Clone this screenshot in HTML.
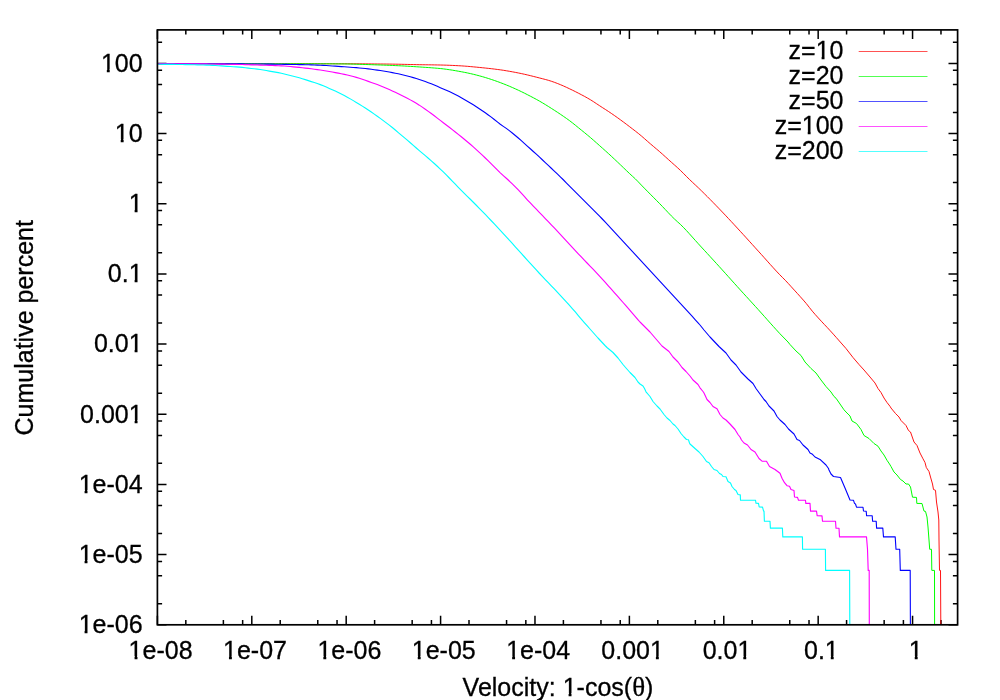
<!DOCTYPE html>
<html><head><meta charset="utf-8"><title>plot</title>
<style>
html,body{margin:0;padding:0;background:#fff;}
body{width:1000px;height:700px;overflow:hidden;}
svg{display:block;will-change:transform;}
text{font-family:"Liberation Sans",sans-serif;font-size:25px;fill:#000;stroke:#000;stroke-width:0.3px;}
</style></head><body>
<svg width="1000" height="700" viewBox="0 0 1000 700">
<rect width="1000" height="700" fill="#fff"/>
<path d="M157.40 624.80v-9.10 M157.40 29.90v9.10 M185.82 624.80v-4.70 M185.82 29.90v4.70 M223.38 624.80v-4.70 M223.38 29.90v4.70 M242.65 624.80v-4.70 M242.65 29.90v4.70 M251.80 624.80v-9.10 M251.80 29.90v9.10 M280.21 624.80v-4.70 M280.21 29.90v4.70 M317.77 624.80v-4.70 M317.77 29.90v4.70 M337.04 624.80v-4.70 M337.04 29.90v4.70 M346.19 624.80v-9.10 M346.19 29.90v9.10 M374.61 624.80v-4.70 M374.61 29.90v4.70 M412.17 624.80v-4.70 M412.17 29.90v4.70 M431.44 624.80v-4.70 M431.44 29.90v4.70 M440.59 624.80v-9.10 M440.59 29.90v9.10 M469.00 624.80v-4.70 M469.00 29.90v4.70 M506.57 624.80v-4.70 M506.57 29.90v4.70 M525.83 624.80v-4.70 M525.83 29.90v4.70 M534.98 624.80v-9.10 M534.98 29.90v9.10 M563.40 624.80v-4.70 M563.40 29.90v4.70 M600.96 624.80v-4.70 M600.96 29.90v4.70 M620.23 624.80v-4.70 M620.23 29.90v4.70 M629.38 624.80v-9.10 M629.38 29.90v9.10 M657.79 624.80v-4.70 M657.79 29.90v4.70 M695.36 624.80v-4.70 M695.36 29.90v4.70 M714.62 624.80v-4.70 M714.62 29.90v4.70 M723.77 624.80v-9.10 M723.77 29.90v9.10 M752.19 624.80v-4.70 M752.19 29.90v4.70 M789.75 624.80v-4.70 M789.75 29.90v4.70 M809.02 624.80v-4.70 M809.02 29.90v4.70 M818.17 624.80v-9.10 M818.17 29.90v9.10 M846.58 624.80v-4.70 M846.58 29.90v4.70 M884.15 624.80v-4.70 M884.15 29.90v4.70 M903.41 624.80v-4.70 M903.41 29.90v4.70 M912.56 624.80v-9.10 M912.56 29.90v9.10 M940.98 624.80v-4.70 M940.98 29.90v4.70 M157.40 624.80h9.10 M957.60 624.80h-9.10 M157.40 603.67h4.70 M957.60 603.67h-4.70 M157.40 575.75h4.70 M957.60 575.75h-4.70 M157.40 561.42h4.70 M957.60 561.42h-4.70 M157.40 554.62h9.10 M957.60 554.62h-9.10 M157.40 533.50h4.70 M957.60 533.50h-4.70 M157.40 505.57h4.70 M957.60 505.57h-4.70 M157.40 491.25h4.70 M957.60 491.25h-4.70 M157.40 484.45h9.10 M957.60 484.45h-9.10 M157.40 463.32h4.70 M957.60 463.32h-4.70 M157.40 435.39h4.70 M957.60 435.39h-4.70 M157.40 421.07h4.70 M957.60 421.07h-4.70 M157.40 414.27h9.10 M957.60 414.27h-9.10 M157.40 393.14h4.70 M957.60 393.14h-4.70 M157.40 365.22h4.70 M957.60 365.22h-4.70 M157.40 350.89h4.70 M957.60 350.89h-4.70 M157.40 344.09h9.10 M957.60 344.09h-9.10 M157.40 322.97h4.70 M957.60 322.97h-4.70 M157.40 295.04h4.70 M957.60 295.04h-4.70 M157.40 280.72h4.70 M957.60 280.72h-4.70 M157.40 273.91h9.10 M957.60 273.91h-9.10 M157.40 252.79h4.70 M957.60 252.79h-4.70 M157.40 224.86h4.70 M957.60 224.86h-4.70 M157.40 210.54h4.70 M957.60 210.54h-4.70 M157.40 203.74h9.10 M957.60 203.74h-9.10 M157.40 182.61h4.70 M957.60 182.61h-4.70 M157.40 154.69h4.70 M957.60 154.69h-4.70 M157.40 140.36h4.70 M957.60 140.36h-4.70 M157.40 133.56h9.10 M957.60 133.56h-9.10 M157.40 112.43h4.70 M957.60 112.43h-4.70 M157.40 84.51h4.70 M957.60 84.51h-4.70 M157.40 70.18h4.70 M957.60 70.18h-4.70 M157.40 63.38h9.10 M957.60 63.38h-9.10 M157.40 42.26h4.70 M957.60 42.26h-4.70" stroke="#000" stroke-width="1.5" fill="none"/>
<text x="160.60" y="658.6" text-anchor="middle">1e-08</text>
<text x="255.00" y="658.6" text-anchor="middle">1e-07</text>
<text x="349.39" y="658.6" text-anchor="middle">1e-06</text>
<text x="443.79" y="658.6" text-anchor="middle">1e-05</text>
<text x="538.18" y="658.6" text-anchor="middle">1e-04</text>
<text x="632.58" y="658.6" text-anchor="middle">0.001</text>
<text x="726.97" y="658.6" text-anchor="middle">0.01</text>
<text x="821.37" y="658.6" text-anchor="middle">0.1</text>
<text x="915.76" y="658.6" text-anchor="middle">1</text>
<text x="142.6" y="633.20" text-anchor="end">1e-06</text>
<text x="142.6" y="563.02" text-anchor="end">1e-05</text>
<text x="142.6" y="492.85" text-anchor="end">1e-04</text>
<text x="142.6" y="422.67" text-anchor="end">0.001</text>
<text x="142.6" y="352.49" text-anchor="end">0.01</text>
<text x="142.6" y="282.31" text-anchor="end">0.1</text>
<text x="142.6" y="212.14" text-anchor="end">1</text>
<text x="142.6" y="141.96" text-anchor="end">10</text>
<text x="142.6" y="71.78" text-anchor="end">100</text>
<text x="558.0" y="695.8" text-anchor="middle">Velocity: 1-cos(<tspan font-family="Liberation Serif" font-size="27">θ</tspan>)</text>
<text transform="translate(33.4 327.8) rotate(-90)" text-anchor="middle">Cumulative percent</text>
<text x="843.5" y="59.40" text-anchor="end">z=10</text>
<path d="M858.7 51.50H927.5" stroke="#ff0000" stroke-width="1" stroke-opacity="0.68" fill="none"/>
<text x="843.5" y="84.40" text-anchor="end">z=20</text>
<path d="M858.7 76.50H927.5" stroke="#00ff00" stroke-width="1" stroke-opacity="0.68" fill="none"/>
<text x="843.5" y="109.40" text-anchor="end">z=50</text>
<path d="M858.7 101.50H927.5" stroke="#0000ff" stroke-width="1" stroke-opacity="0.68" fill="none"/>
<text x="843.5" y="134.40" text-anchor="end">z=100</text>
<path d="M858.7 126.50H927.5" stroke="#ff00ff" stroke-width="1" stroke-opacity="0.68" fill="none"/>
<text x="843.5" y="159.40" text-anchor="end">z=200</text>
<path d="M858.7 151.50H927.5" stroke="#00ffff" stroke-width="1" stroke-opacity="0.68" fill="none"/>
<!--FOOT-->
<g id="foot" fill="#fff" stroke="none"><rect x="130.00" y="656" width="4.56" height="4"/><rect x="137.47" y="656" width="4.53" height="4"/><rect x="224.00" y="656" width="4.96" height="4"/><rect x="231.87" y="656" width="4.13" height="4"/><rect x="319.00" y="656" width="4.35" height="4"/><rect x="326.26" y="656" width="4.74" height="4"/><rect x="413.00" y="656" width="4.75" height="4"/><rect x="420.66" y="656" width="4.34" height="4"/><rect x="507.00" y="656" width="5.14" height="4"/><rect x="515.05" y="656" width="4.95" height="4"/><rect x="651.00" y="656" width="4.89" height="4"/><rect x="658.80" y="656" width="4.20" height="4"/><rect x="739.00" y="656" width="4.32" height="4"/><rect x="746.23" y="656" width="4.77" height="4"/><rect x="826.00" y="656" width="4.77" height="4"/><rect x="833.68" y="656" width="4.32" height="4"/><rect x="910.00" y="656" width="4.74" height="4"/><rect x="917.65" y="656" width="4.35" height="4"/><rect x="80.00" y="631" width="4.58" height="4"/><rect x="87.49" y="631" width="4.51" height="4"/><rect x="80.00" y="560" width="4.58" height="5"/><rect x="87.49" y="560" width="4.51" height="5"/><rect x="80.00" y="490" width="4.58" height="5"/><rect x="87.49" y="490" width="4.51" height="5"/><rect x="130.00" y="420" width="4.63" height="4"/><rect x="137.54" y="420" width="4.46" height="4"/><rect x="130.00" y="350" width="4.61" height="4"/><rect x="137.52" y="350" width="4.48" height="4"/><rect x="130.00" y="280" width="4.61" height="4"/><rect x="137.52" y="280" width="4.48" height="4"/><rect x="130.00" y="210" width="4.63" height="4"/><rect x="137.54" y="210" width="4.46" height="4"/><rect x="116.00" y="139" width="4.72" height="5"/><rect x="123.63" y="139" width="4.37" height="5"/><rect x="102.00" y="69" width="4.82" height="4"/><rect x="109.73" y="69" width="4.27" height="4"/><rect x="564.00" y="693" width="4.59" height="4"/><rect x="571.50" y="693" width="4.50" height="4"/><rect x="817.00" y="57" width="4.61" height="4"/><rect x="824.52" y="57" width="4.48" height="4"/><rect x="803.00" y="132" width="4.72" height="4"/><rect x="810.63" y="132" width="4.37" height="4"/></g>

<path d="M158.30 63.70 L161.30 63.70 L164.30 63.70 L167.30 63.70 L170.30 63.70 L173.30 63.70 L176.30 63.70 L179.30 63.70 L182.30 63.70 L185.30 63.70 L188.30 63.70 L191.30 63.70 L194.30 63.70 L197.30 63.70 L200.30 63.70 L203.30 63.70 L206.30 63.70 L209.30 63.70 L212.30 63.70 L215.30 63.70 L218.30 63.70 L221.30 63.70 L224.30 63.70 L227.30 63.70 L230.30 63.70 L233.30 63.70 L236.30 63.70 L239.30 63.70 L242.30 63.70 L245.30 63.70 L248.30 63.70 L251.30 63.70 L254.30 63.70 L257.30 63.70 L260.30 63.70 L263.30 63.70 L266.30 63.70 L269.30 63.70 L272.30 63.70 L275.30 63.70 L278.30 63.70 L281.30 63.70 L284.30 63.70 L287.30 63.70 L290.30 63.70 L293.30 63.70 L296.30 63.70 L299.30 63.70 L302.30 63.70 L305.30 63.70 L308.30 63.70 L311.30 63.70 L314.30 63.71 L317.30 63.71 L320.30 63.72 L323.30 63.72 L326.30 63.72 L329.30 63.73 L332.30 63.73 L335.30 63.74 L338.30 63.75 L341.30 63.75 L344.30 63.76 L347.30 63.77 L350.30 63.78 L353.30 63.80 L356.30 63.81 L359.30 63.83 L362.30 63.85 L365.30 63.87 L368.30 63.90 L371.30 63.92 L374.30 63.95 L377.30 63.97 L380.30 64.00 L383.30 64.03 L386.30 64.06 L389.30 64.09 L392.30 64.13 L395.30 64.18 L398.30 64.23 L401.30 64.29 L404.30 64.36 L407.30 64.43 L410.30 64.50 L413.30 64.57 L416.30 64.63 L419.30 64.69 L422.30 64.74 L425.30 64.78 L428.30 64.82 L431.30 64.85 L434.30 64.90 L437.30 64.95 L440.30 65.01 L443.30 65.08 L446.30 65.18 L449.30 65.29 L452.30 65.42 L455.30 65.56 L458.30 65.71 L461.30 65.87 L464.30 66.08 L467.30 66.31 L470.30 66.57 L473.30 66.85 L476.30 67.14 L479.30 67.43 L482.30 67.73 L485.30 68.04 L488.30 68.36 L491.30 68.70 L494.30 69.06 L497.30 69.44 L500.30 69.84 L503.30 70.28 L506.30 70.76 L509.30 71.27 L512.30 71.81 L515.30 72.37 L518.30 72.96 L521.30 73.57 L524.30 74.22 L527.30 74.91 L530.30 75.64 L533.30 76.39 L536.30 77.15 L539.30 77.92 L542.30 78.68 L545.30 79.46 L548.30 80.29 L551.30 81.22 L554.30 82.27 L557.30 83.42 L560.30 84.62 L563.30 85.90 L566.30 87.26 L569.30 88.67 L572.30 90.10 L575.30 91.59 L578.30 93.12 L581.30 94.68 L584.30 96.28 L587.30 97.94 L590.30 99.68 L593.30 101.56 L596.30 103.55 L599.30 105.54 L602.30 107.49 L605.30 109.41 L608.30 111.37 L611.30 113.38 L614.30 115.45 L617.30 117.56 L620.30 119.72 L623.30 121.93 L626.30 124.18 L629.30 126.46 L632.30 128.76 L635.30 131.06 L638.30 133.42 L641.30 135.89 L644.30 138.49 L647.30 141.14 L650.30 143.76 L653.30 146.30 L656.30 148.83 L659.30 151.39 L662.30 154.03 L665.30 156.74 L668.30 159.46 L671.30 162.16 L674.30 164.82 L677.30 167.50 L680.30 170.29 L683.30 173.25 L686.30 176.31 L689.30 179.29 L692.30 182.14 L695.30 184.94 L698.30 187.76 L701.30 190.67 L704.30 193.63 L707.30 196.62 L710.30 199.64 L713.30 202.69 L716.30 205.77 L719.30 208.87 L722.30 212.00 L725.30 215.17 L728.30 218.36 L731.30 221.58 L734.30 224.82 L737.30 228.07 L740.30 231.33 L743.30 234.60 L746.30 237.89 L749.30 241.19 L752.30 244.50 L755.30 247.82 L758.30 251.13 L761.30 254.43 L764.30 257.78 L767.30 261.14 L770.30 264.49 L773.30 267.81 L776.30 271.08 L779.30 274.27 L782.30 277.30 L785.30 280.31 L788.30 283.51 L791.30 286.80 L794.30 290.11 L797.30 293.40 L800.30 296.73 L803.30 300.08 L806.30 303.56 L809.30 307.39 L812.30 311.16 L815.30 314.61 L818.30 317.94 L821.30 321.21 L824.30 324.41 L827.30 327.59 L830.30 330.83 L833.30 334.14 L836.30 337.50 L838.50 340.00 L846.00 348.50 L853.00 357.50 L859.00 364.50 L864.00 370.00 L870.00 377.00 L875.00 383.00 L878.00 388.50 L881.00 392.50 L884.00 398.00 L887.00 402.50 L890.00 406.30 L891.00 408.00 L895.50 413.50 L899.00 417.00 L901.00 420.50 L906.00 425.50 L908.50 430.50 L910.50 432.00 L914.00 442.00 L917.00 445.50 L920.00 453.00 L923.00 458.80 L925.00 462.50 L926.30 467.50 L929.00 471.50 L930.50 477.00 L932.50 484.00 L933.50 489.50 L935.50 490.30 L936.50 502.00 L938.00 512.00 L938.80 520.00 L939.00 540.00 L939.50 570.40 L940.50 570.40 L940.80 624.80" stroke="#ff0000" stroke-width="0.92" fill="none" stroke-linejoin="round"/>
<path d="M158.30 63.70 L161.30 63.70 L164.30 63.70 L167.30 63.70 L170.30 63.70 L173.30 63.70 L176.30 63.70 L179.30 63.70 L182.30 63.70 L185.30 63.70 L188.30 63.70 L191.30 63.70 L194.30 63.70 L197.30 63.70 L200.30 63.70 L203.30 63.70 L206.30 63.71 L209.30 63.71 L212.30 63.71 L215.30 63.71 L218.30 63.71 L221.30 63.71 L224.30 63.71 L227.30 63.71 L230.30 63.71 L233.30 63.71 L236.30 63.71 L239.30 63.72 L242.30 63.72 L245.30 63.72 L248.30 63.72 L251.30 63.72 L254.30 63.72 L257.30 63.72 L260.30 63.72 L263.30 63.73 L266.30 63.73 L269.30 63.73 L272.30 63.73 L275.30 63.73 L278.30 63.73 L281.30 63.74 L284.30 63.74 L287.30 63.74 L290.30 63.74 L293.30 63.75 L296.30 63.75 L299.30 63.75 L302.30 63.75 L305.30 63.76 L308.30 63.76 L311.30 63.77 L314.30 63.78 L317.30 63.79 L320.30 63.80 L323.30 63.81 L326.30 63.82 L329.30 63.84 L332.30 63.85 L335.30 63.87 L338.30 63.89 L341.30 63.91 L344.30 63.94 L347.30 63.99 L350.30 64.05 L353.30 64.12 L356.30 64.21 L359.30 64.29 L362.30 64.39 L365.30 64.49 L368.30 64.59 L371.30 64.70 L374.30 64.80 L377.30 64.91 L380.30 65.01 L383.30 65.11 L386.30 65.22 L389.30 65.34 L392.30 65.46 L395.30 65.58 L398.30 65.72 L401.30 65.86 L404.30 66.02 L407.30 66.19 L410.30 66.37 L413.30 66.56 L416.30 66.75 L419.30 66.95 L422.30 67.15 L425.30 67.35 L428.30 67.55 L431.30 67.77 L434.30 68.00 L437.30 68.25 L440.30 68.53 L443.30 68.87 L446.30 69.27 L449.30 69.70 L452.30 70.15 L455.30 70.66 L458.30 71.19 L461.30 71.74 L464.30 72.31 L467.30 72.92 L470.30 73.57 L473.30 74.27 L476.30 75.02 L479.30 75.81 L482.30 76.64 L485.30 77.53 L488.30 78.46 L491.30 79.43 L494.30 80.44 L497.30 81.51 L500.30 82.61 L503.30 83.76 L506.30 84.96 L509.30 86.20 L512.30 87.49 L515.30 88.82 L518.30 90.20 L521.30 91.62 L524.30 93.09 L527.30 94.61 L530.30 96.16 L533.30 97.73 L536.30 99.34 L539.30 101.00 L542.30 102.74 L545.30 104.56 L548.30 106.43 L551.30 108.32 L554.30 110.24 L557.30 112.20 L560.30 114.20 L563.30 116.24 L566.30 118.32 L569.30 120.48 L572.30 122.76 L575.30 125.16 L578.30 127.62 L581.30 130.05 L584.30 132.48 L587.30 134.94 L590.30 137.46 L593.30 140.05 L596.30 142.71 L599.30 145.38 L602.30 148.04 L605.30 150.72 L608.30 153.44 L611.30 156.20 L614.30 159.01 L617.30 161.84 L620.30 164.69 L623.30 167.57 L626.30 170.47 L629.30 173.34 L632.30 176.10 L635.30 178.84 L638.30 181.88 L641.30 185.05 L644.30 188.13 L647.30 191.17 L650.30 194.19 L653.30 197.21 L656.30 200.24 L659.30 203.28 L662.30 206.39 L665.30 209.56 L668.30 212.74 L671.30 215.86 L674.30 218.85 L677.30 221.61 L680.30 224.29 L683.30 227.28 L686.30 230.43 L689.30 233.70 L692.30 237.04 L695.30 240.41 L698.30 243.74 L701.30 247.01 L704.30 250.27 L707.30 253.53 L710.30 256.79 L713.30 260.06 L716.30 263.34 L719.30 266.63 L722.30 269.94 L725.30 273.26 L728.30 276.60 L731.30 279.94 L734.30 283.28 L737.30 286.61 L740.30 289.93 L743.30 293.23 L746.30 296.51 L749.30 299.79 L752.30 303.07 L755.30 306.36 L758.30 309.67 L761.30 313.00 L764.30 316.37 L767.30 319.74 L770.30 323.11 L773.30 326.46 L776.30 329.78 L779.30 333.04 L780.00 333.80 L788.00 342.00 L790.00 344.50 L796.00 351.00 L801.00 355.50 L805.00 362.00 L811.00 368.50 L816.00 373.00 L821.00 380.00 L826.00 386.50 L831.00 392.00 L834.00 396.50 L836.00 398.20 L840.00 404.00 L844.00 409.80 L846.00 412.00 L850.00 416.00 L852.00 421.00 L856.50 423.50 L861.00 429.50 L864.00 435.50 L869.00 438.50 L874.00 443.50 L878.00 446.20 L881.00 451.00 L884.00 455.00 L887.00 460.30 L889.50 464.00 L891.00 466.50 L894.00 472.00 L897.00 475.00 L900.50 479.50 L903.00 481.00 L906.00 484.00 L908.50 484.00 L910.50 487.00 L912.50 497.20 L916.50 497.40 L916.80 503.40 L922.00 503.50 L924.00 511.10 L925.50 511.40 L927.00 517.00 L928.00 527.00 L929.00 540.00 L929.70 549.30 L931.50 549.30 L931.80 570.40 L934.50 570.40 L934.60 624.80" stroke="#00ff00" stroke-width="1.00" fill="none" stroke-linejoin="round"/>
<path d="M158.30 63.70 L161.30 63.70 L164.30 63.70 L167.30 63.70 L170.30 63.71 L173.30 63.71 L176.30 63.71 L179.30 63.72 L182.30 63.72 L185.30 63.73 L188.30 63.73 L191.30 63.74 L194.30 63.75 L197.30 63.75 L200.30 63.76 L203.30 63.77 L206.30 63.78 L209.30 63.79 L212.30 63.80 L215.30 63.81 L218.30 63.82 L221.30 63.83 L224.30 63.84 L227.30 63.85 L230.30 63.86 L233.30 63.87 L236.30 63.88 L239.30 63.90 L242.30 63.91 L245.30 63.93 L248.30 63.94 L251.30 63.96 L254.30 63.99 L257.30 64.01 L260.30 64.04 L263.30 64.07 L266.30 64.10 L269.30 64.14 L272.30 64.17 L275.30 64.21 L278.30 64.25 L281.30 64.29 L284.30 64.34 L287.30 64.38 L290.30 64.43 L293.30 64.48 L296.30 64.53 L299.30 64.59 L302.30 64.65 L305.30 64.71 L308.30 64.79 L311.30 64.88 L314.30 64.98 L317.30 65.09 L320.30 65.21 L323.30 65.36 L326.30 65.53 L329.30 65.73 L332.30 65.94 L335.30 66.16 L338.30 66.38 L341.30 66.59 L344.30 66.79 L347.30 67.00 L350.30 67.21 L353.30 67.43 L356.30 67.67 L359.30 67.94 L362.30 68.23 L365.30 68.55 L368.30 68.91 L371.30 69.29 L374.30 69.69 L377.30 70.11 L380.30 70.54 L383.30 71.02 L386.30 71.53 L389.30 72.07 L392.30 72.63 L395.30 73.21 L398.30 73.83 L401.30 74.49 L404.30 75.21 L407.30 75.98 L410.30 76.78 L413.30 77.63 L416.30 78.53 L419.30 79.47 L422.30 80.47 L425.30 81.53 L428.30 82.65 L431.30 83.81 L434.30 85.05 L437.30 86.33 L440.30 87.63 L443.30 88.91 L446.30 90.22 L449.30 91.57 L452.30 93.01 L455.30 94.52 L458.30 96.09 L461.30 97.71 L464.30 99.41 L467.30 101.17 L470.30 102.98 L473.30 104.84 L476.30 106.76 L479.30 108.73 L482.30 110.75 L485.30 112.82 L488.30 114.96 L491.30 117.18 L494.30 119.54 L497.30 121.93 L500.30 124.22 L503.30 126.33 L506.30 128.40 L509.30 130.61 L512.30 132.99 L515.30 135.48 L518.30 138.04 L521.30 140.63 L524.30 143.31 L527.30 146.04 L530.30 148.77 L533.30 151.48 L536.30 154.21 L539.30 156.95 L542.30 159.74 L545.30 162.56 L548.30 165.39 L551.30 168.23 L554.30 171.05 L557.30 173.90 L560.30 176.79 L563.30 179.76 L566.30 182.78 L569.30 185.80 L572.30 188.80 L575.30 191.80 L578.30 194.79 L581.30 197.80 L584.30 200.80 L587.30 203.80 L590.30 206.78 L593.30 209.78 L596.30 212.81 L599.30 215.88 L602.30 219.00 L605.30 222.17 L608.30 225.37 L611.30 228.60 L614.30 231.85 L617.30 235.09 L620.30 238.32 L623.30 241.55 L626.30 244.78 L629.30 248.02 L632.30 251.26 L635.30 254.51 L638.30 257.76 L641.30 261.01 L644.30 264.28 L647.30 267.56 L650.30 270.84 L653.30 274.12 L656.30 277.39 L659.30 280.64 L662.30 283.88 L665.30 287.10 L668.30 290.32 L671.30 293.56 L674.30 296.81 L677.30 300.06 L680.30 303.33 L683.30 306.60 L686.30 309.89 L689.30 313.18 L692.30 316.48 L695.30 319.79 L698.30 323.11 L700.00 325.00 L704.00 330.00 L710.00 337.00 L719.00 346.50 L726.00 353.00 L731.00 360.00 L736.00 365.00 L741.00 372.00 L748.00 379.00 L753.00 383.50 L756.00 388.50 L760.00 394.00 L764.00 399.50 L766.00 401.50 L769.00 406.00 L774.00 411.00 L777.00 416.50 L780.00 420.00 L785.00 424.50 L788.50 429.00 L794.00 434.00 L797.00 439.50 L799.50 440.50 L803.00 445.00 L808.00 449.50 L810.00 453.00 L812.50 454.30 L815.00 457.00 L820.00 459.40 L826.00 465.00 L828.50 468.50 L829.00 470.00 L831.00 474.00 L833.50 476.50 L840.50 477.50 L845.00 488.00 L850.00 500.00 L853.50 500.30 L854.50 503.40 L855.50 504.00 L856.50 507.20 L863.00 507.20 L863.50 511.00 L866.20 511.20 L866.60 515.80 L872.20 515.80 L872.60 521.30 L876.20 521.30 L876.60 528.10 L882.80 528.10 L883.50 536.90 L895.20 536.90 L896.00 549.30 L899.70 549.30 L900.30 570.40 L910.20 570.40 L910.40 624.80" stroke="#0000ff" stroke-width="1.10" fill="none" stroke-linejoin="round"/>
<path d="M158.30 63.70 L161.30 63.70 L164.30 63.70 L167.30 63.71 L170.30 63.72 L173.30 63.72 L176.30 63.73 L179.30 63.74 L182.30 63.76 L185.30 63.77 L188.30 63.79 L191.30 63.80 L194.30 63.82 L197.30 63.83 L200.30 63.85 L203.30 63.87 L206.30 63.90 L209.30 63.94 L212.30 63.97 L215.30 64.02 L218.30 64.07 L221.30 64.12 L224.30 64.17 L227.30 64.23 L230.30 64.29 L233.30 64.36 L236.30 64.42 L239.30 64.48 L242.30 64.55 L245.30 64.63 L248.30 64.72 L251.30 64.82 L254.30 64.91 L257.30 65.01 L260.30 65.11 L263.30 65.20 L266.30 65.29 L269.30 65.38 L272.30 65.48 L275.30 65.59 L278.30 65.72 L281.30 65.87 L284.30 66.06 L287.30 66.29 L290.30 66.55 L293.30 66.83 L296.30 67.13 L299.30 67.43 L302.30 67.74 L305.30 68.07 L308.30 68.43 L311.30 68.80 L314.30 69.20 L317.30 69.61 L320.30 70.04 L323.30 70.50 L326.30 70.99 L329.30 71.50 L332.30 72.03 L335.30 72.59 L338.30 73.17 L341.30 73.76 L344.30 74.39 L347.30 75.06 L350.30 75.77 L353.30 76.55 L356.30 77.39 L359.30 78.28 L362.30 79.25 L365.30 80.30 L368.30 81.39 L371.30 82.46 L374.30 83.51 L377.30 84.58 L380.30 85.72 L383.30 86.95 L386.30 88.25 L389.30 89.59 L392.30 90.93 L395.30 92.28 L398.30 93.68 L401.30 95.14 L404.30 96.66 L407.30 98.23 L410.30 99.87 L413.30 101.56 L416.30 103.31 L419.30 105.15 L422.30 107.12 L425.30 109.20 L428.30 111.36 L431.30 113.56 L434.30 115.82 L437.30 118.13 L440.30 120.43 L443.30 122.70 L446.30 124.97 L449.30 127.26 L452.30 129.59 L455.30 131.94 L458.30 134.33 L461.30 136.75 L464.30 139.20 L467.30 141.70 L470.30 144.26 L473.30 146.90 L476.30 149.60 L479.30 152.35 L482.30 155.14 L485.30 157.97 L488.30 160.85 L491.30 163.78 L494.30 166.78 L497.30 169.80 L500.30 172.79 L503.30 175.58 L506.30 178.28 L509.30 181.03 L512.30 183.92 L515.30 186.88 L518.30 189.93 L521.30 193.10 L524.30 196.45 L527.30 199.78 L530.30 202.97 L533.30 206.08 L536.30 209.17 L539.30 212.27 L542.30 215.40 L545.30 218.53 L548.30 221.67 L551.30 224.81 L554.30 227.97 L557.30 231.13 L560.30 234.32 L563.30 237.54 L566.30 240.78 L569.30 244.04 L572.30 247.30 L575.30 250.55 L578.30 253.78 L581.30 256.98 L584.30 260.13 L587.30 263.25 L590.30 266.36 L593.30 269.48 L596.30 272.64 L599.30 275.84 L602.30 279.12 L605.30 282.46 L608.30 285.84 L611.30 289.21 L614.30 292.58 L617.30 295.95 L620.30 299.34 L623.30 302.75 L626.30 306.18 L629.30 309.62 L632.30 313.07 L635.30 316.53 L638.30 320.02 L640.00 322.00 L643.00 325.00 L650.00 332.00 L656.00 339.00 L662.00 346.00 L669.00 351.50 L673.00 357.00 L678.00 362.00 L682.00 367.50 L686.00 371.50 L690.00 376.00 L693.00 380.00 L698.00 384.50 L700.00 387.80 L703.00 391.50 L704.00 393.00 L707.00 399.50 L710.00 402.50 L713.00 406.50 L717.00 408.80 L720.00 414.50 L723.00 418.00 L726.00 420.00 L730.00 424.00 L735.00 429.50 L738.00 434.50 L740.00 437.00 L741.50 440.00 L744.00 443.00 L747.50 445.00 L751.00 449.50 L755.00 452.00 L759.00 458.50 L762.00 461.20 L766.50 461.20 L769.50 466.50 L775.00 469.50 L780.00 473.30 L782.00 478.20 L784.50 482.70 L787.00 485.70 L789.50 486.20 L791.00 489.50 L794.00 490.50 L794.50 497.00 L797.50 497.40 L798.50 500.20 L805.50 500.20 L805.80 503.40 L810.00 503.40 L810.50 511.10 L816.50 511.10 L817.20 515.80 L822.00 515.90 L822.50 521.30 L835.50 521.30 L836.00 528.10 L839.00 528.20 L839.50 536.90 L866.50 536.90 L867.50 549.30 L868.20 570.40 L869.20 570.40 L869.30 624.80" stroke="#ff00ff" stroke-width="1.12" fill="none" stroke-linejoin="round"/>
<path d="M158.30 64.30 L161.30 64.31 L164.30 64.33 L167.30 64.35 L170.30 64.39 L173.30 64.42 L176.30 64.47 L179.30 64.51 L182.30 64.56 L185.30 64.61 L188.30 64.67 L191.30 64.72 L194.30 64.79 L197.30 64.87 L200.30 64.95 L203.30 65.05 L206.30 65.16 L209.30 65.27 L212.30 65.40 L215.30 65.56 L218.30 65.73 L221.30 65.92 L224.30 66.12 L227.30 66.32 L230.30 66.52 L233.30 66.71 L236.30 66.91 L239.30 67.14 L242.30 67.42 L245.30 67.75 L248.30 68.10 L251.30 68.45 L254.30 68.79 L257.30 69.14 L260.30 69.54 L263.30 70.01 L266.30 70.54 L269.30 71.08 L272.30 71.60 L275.30 72.11 L278.30 72.66 L281.30 73.28 L284.30 74.02 L287.30 74.80 L290.30 75.57 L293.30 76.30 L296.30 77.03 L299.30 77.81 L302.30 78.68 L305.30 79.64 L308.30 80.64 L311.30 81.62 L314.30 82.57 L317.30 83.55 L320.30 84.61 L323.30 85.80 L326.30 87.07 L329.30 88.39 L332.30 89.71 L335.30 91.06 L338.30 92.47 L341.30 93.96 L344.30 95.53 L347.30 97.18 L350.30 98.87 L353.30 100.62 L356.30 102.42 L359.30 104.26 L362.30 106.15 L365.30 108.08 L368.30 110.06 L371.30 112.08 L374.30 114.15 L377.30 116.26 L380.30 118.42 L383.30 120.61 L386.30 122.85 L389.30 125.15 L392.30 127.55 L395.30 130.04 L398.30 132.57 L401.30 135.09 L404.30 137.63 L407.30 140.19 L410.30 142.76 L413.30 145.36 L416.30 147.99 L419.30 150.60 L422.30 153.16 L425.30 155.68 L428.30 158.22 L431.30 160.85 L434.30 163.52 L437.30 166.25 L440.30 169.05 L443.30 171.94 L446.30 174.93 L449.30 177.99 L452.30 181.09 L455.30 184.19 L458.30 187.28 L461.30 190.31 L464.30 193.30 L467.30 196.28 L470.30 199.26 L473.30 202.24 L476.30 205.24 L479.30 208.28 L482.30 211.36 L485.30 214.47 L488.30 217.59 L491.30 220.74 L494.30 223.91 L497.30 227.11 L500.30 230.32 L503.30 233.57 L506.30 236.85 L509.30 240.16 L512.30 243.48 L515.30 246.81 L518.30 250.13 L521.30 253.43 L524.30 256.75 L527.30 260.07 L530.30 263.40 L533.30 266.71 L536.30 269.99 L539.30 273.25 L542.30 276.45 L545.30 279.61 L548.30 282.73 L551.30 285.84 L554.30 288.96 L557.30 292.12 L560.30 295.32 L563.30 298.56 L566.30 301.83 L569.30 305.14 L572.30 308.51 L575.30 311.99 L578.30 315.59 L581.30 319.11 L584.30 322.57 L587.30 325.98 L590.00 329.00 L598.00 338.00 L605.00 345.50 L607.00 347.50 L613.00 352.50 L618.00 358.00 L623.00 364.50 L626.00 368.00 L630.00 372.50 L635.00 377.50 L638.00 382.00 L640.00 384.00 L643.00 386.00 L644.50 388.50 L646.00 391.80 L650.00 396.50 L653.00 401.50 L657.00 406.00 L660.00 409.00 L664.00 414.50 L667.00 418.00 L670.00 420.50 L673.00 424.00 L675.00 425.50 L678.00 429.00 L681.00 433.50 L684.00 437.00 L686.50 439.50 L688.50 439.80 L689.50 443.00 L690.00 444.00 L695.00 448.50 L699.00 452.00 L703.00 456.50 L706.50 461.50 L709.00 462.80 L711.50 466.50 L714.00 469.50 L717.00 470.50 L719.50 473.50 L721.50 474.50 L723.00 476.50 L726.00 476.80 L728.00 481.50 L730.50 483.00 L732.00 486.50 L734.50 489.50 L736.00 490.50 L738.00 494.50 L740.30 494.90 L740.50 500.20 L755.50 500.20 L756.00 503.30 L758.50 503.40 L759.20 507.00 L762.50 507.10 L763.60 511.10 L764.00 511.10 L764.40 521.30 L770.00 521.30 L770.40 528.10 L782.40 528.10 L782.80 536.90 L802.40 536.90 L802.60 549.30 L825.40 549.30 L825.60 570.40 L849.60 570.40 L849.80 624.80" stroke="#00ffff" stroke-width="1.12" fill="none" stroke-linejoin="round"/>
<rect x="157.40" y="29.90" width="800.20" height="594.90" fill="none" stroke="#000" stroke-width="1.7"/>
</svg>
</body></html>
